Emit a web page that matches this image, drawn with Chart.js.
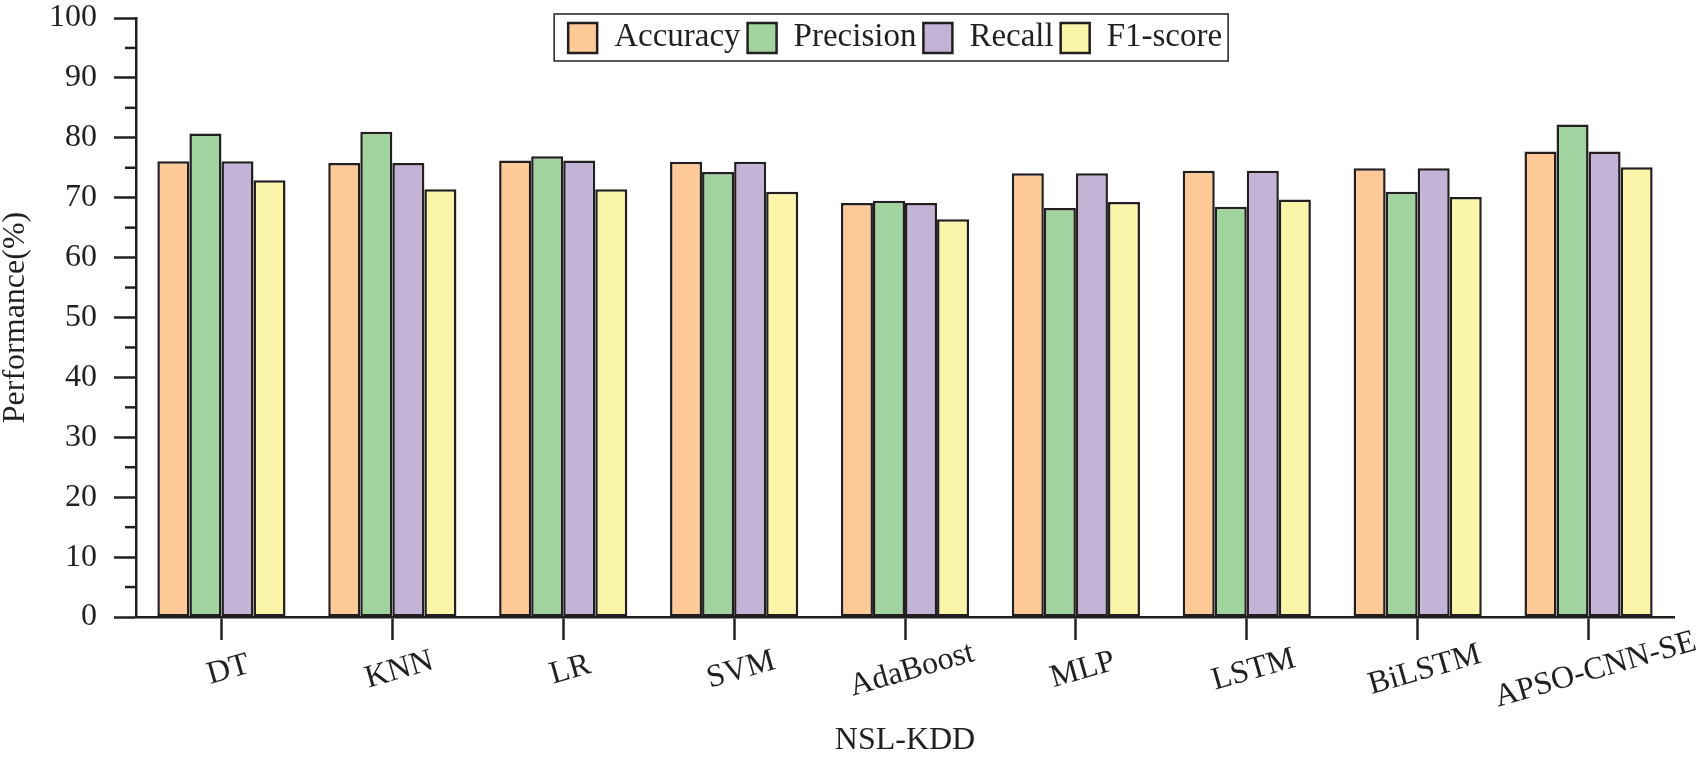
<!DOCTYPE html>
<html>
<head>
<meta charset="utf-8">
<script src="https://cdn.jsdelivr.net/npm/chart.js@4.4.1/dist/chart.umd.min.js"></script>
<style>
    html, body { margin: 0; padding: 0; background: #fff; }
    canvas { display: block; }
</style>
</head>
<body>
<canvas id="chartPic" width="1704" height="764"></canvas>
<script>
const categories = ['DT', 'KNN', 'LR', 'SVM', 'AdaBoost', 'MLP', 'LSTM', 'BiLSTM', 'APSO-CNN-SE'];
const accuracy  = [76.1, 75.8, 76.2, 76.0, 69.1, 74.1, 74.5, 74.9, 77.7];
const precision = [80.7, 81.0, 76.9, 74.3, 69.5, 68.3, 68.5, 71.0, 82.2];
const recall    = [76.1, 75.8, 76.2, 76.0, 69.1, 74.1, 74.5, 74.9, 77.7];
const f1score   = [72.9, 71.4, 71.4, 71.0, 66.4, 69.3, 69.7, 70.1, 75.1];
const seriesNames = ['Accuracy', 'Precision', 'Recall', 'F1-score'];
const yTickValues = [0, 10, 20, 30, 40, 50, 60, 70, 80, 90, 100];
const yMinorTicks = [5, 15, 25, 35, 45, 55, 65, 75, 85, 95];

const ink = '#231F20';
const serif = "'Liberation Serif', 'Times New Roman', serif";
const colors = ['#FCC997', '#A0D39D', '#C3B4D7', '#FAF5A8'];

// minor y ticks, centred rotated x labels and the boxed legend
const extras = {
    id: 'extras',
    afterDraw(chart) {
        const ctx = chart.ctx;
        const xs = chart.scales.x;
        const ys = chart.scales.y;
        ctx.save();

        ctx.strokeStyle = ink;
        ctx.lineWidth = 2.5;
        yMinorTicks.forEach(function (v) {
            const py = ys.getPixelForValue(v);
            ctx.beginPath();
            ctx.moveTo(ys.right - 11, py);
            ctx.lineTo(ys.right, py);
            ctx.stroke();
        });

        ctx.fillStyle = ink;
        ctx.font = '32px ' + serif;
        ctx.textAlign = 'center';
        ctx.textBaseline = 'middle';
        categories.forEach(function (c, i) {
            const px = xs.getPixelForTick(i);
            ctx.save();
            ctx.translate(px + 7, xs.top + 53);
            ctx.rotate(-16 * Math.PI / 180);
            ctx.fillText(c, 0, 0);
            ctx.restore();
        });

        // legend
        ctx.font = '33px ' + serif;
        const widths = seriesNames.map(n => ctx.measureText(n).width);
        let total = 14 + 6 + 7 * (seriesNames.length - 1);
        widths.forEach(w => { total += 46 + w; });
        const area = chart.chartArea;
        const centre = area.left + (area.right - area.left) * 0.491;
        const left = centre - total / 2;
        ctx.fillStyle = '#fff';
        ctx.fillRect(left, 14, total, 47);
        ctx.lineWidth = 1.5;
        ctx.strokeRect(left, 14, total, 47);

        let x = left + 14;
        ctx.textAlign = 'left';
        chart.data.datasets.forEach(function (ds, i) {
            ctx.fillStyle = ds.backgroundColor;
            ctx.fillRect(x, 23, 29, 30);
            ctx.lineWidth = 2.5;
            ctx.strokeRect(x, 23, 29, 30);
            ctx.fillStyle = ink;
            ctx.fillText(ds.label, x + 46, 37);
            x += 46 + widths[i] + 7;
        });
        ctx.restore();
    }
};

const values = [accuracy, precision, recall, f1score];

new Chart(document.getElementById('chartPic'), {
    type: 'bar',
    data: {
        labels: categories,
        datasets: seriesNames.map(function (name, i) {
            return {
                label: name,
                data: values[i],
                backgroundColor: colors[i],
                borderColor: ink,
                borderWidth: 2.5,
                borderSkipped: false,
                categoryPercentage: 0.75,
                barPercentage: 1.0
            };
        })
    },
    options: {
        responsive: false,
        animation: false,
        devicePixelRatio: 1,
        layout: {
            padding: {top: 0, right: 30, bottom: 0, left: 0}
        },
        scales: {
            x: {
                afterFit: function (scale) { scale.height = 147; },
                grid: {
                    offset: false,
                    drawOnChartArea: false,
                    tickLength: 23,
                    tickWidth: 2.5,
                    tickColor: ink
                },
                border: {color: ink, width: 2.5},
                ticks: {display: false},
                title: {
                    display: true,
                    text: 'NSL-KDD',
                    color: ink,
                    padding: {top: 0, bottom: 4},
                    font: {size: 32, family: serif}
                }
            },
            y: {
                min: 0,
                max: 100,
                afterFit: function (scale) {
                    scale.width = 136;
                    scale.paddingTop = 18;
                    scale.paddingBottom = 0;
                },
                afterBuildTicks: function (scale) {
                    scale.ticks = yTickValues.map(v => ({value: v}));
                },
                grid: {
                    drawOnChartArea: false,
                    tickLength: 22,
                    tickWidth: 2.5,
                    tickColor: ink
                },
                border: {color: ink, width: 2.5},
                ticks: {
                    color: ink,
                    padding: 17,
                    font: {size: 32, family: serif}
                },
                title: {
                    display: true,
                    text: 'Performance(%)',
                    color: ink,
                    padding: {top: 0, bottom: 0},
                    font: {size: 32, family: serif, lineHeight: 1}
                }
            }
        },
        plugins: {
            legend: {display: false},
            tooltip: {enabled: false}
        }
    },
    plugins: [extras]
});
</script>
</body>
</html>
